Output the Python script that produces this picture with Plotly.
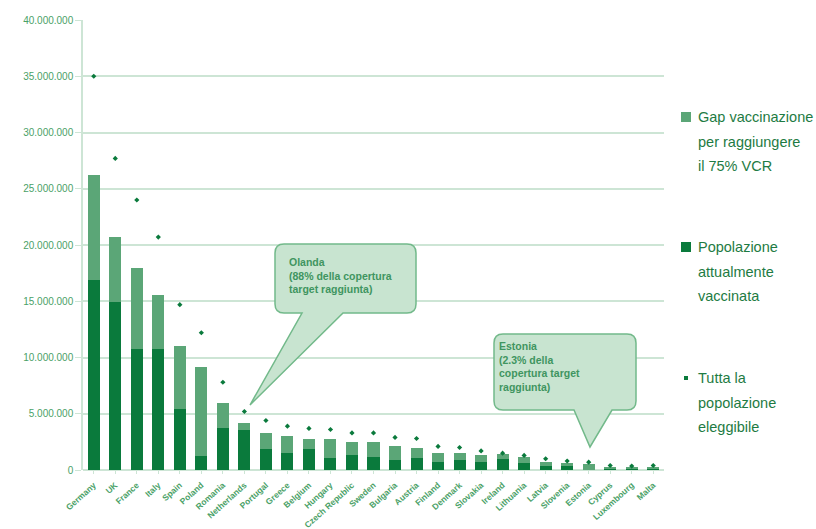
import plotly.graph_objects as go

countries = ["Germany", "UK", "France", "Italy", "Spain", "Poland", "Romania",
             "Netherlands", "Portugal", "Greece", "Belgium", "Hungary",
             "Czech Republic", "Sweden", "Bulgaria", "Austria", "Finland",
             "Denmark", "Slovakia", "Ireland", "Lithuania", "Latvia", "Slovenia",
             "Estonia", "Cyprus", "Luxembourg", "Malta"]

vaccinated = [16_900_000, 14_900_000, 10_800_000, 10_800_000, 5_400_000, 1_250_000,
              3_700_000, 3_600_000, 1_900_000, 1_550_000, 1_850_000, 1_100_000,
              1_300_000, 1_200_000, 900_000, 1_100_000, 700_000, 900_000, 700_000,
              1_000_000, 600_000, 400_000, 400_000, 13_000, 150_000, 150_000, 150_000]

gap = [9_300_000, 5_800_000, 7_200_000, 4_800_000, 5_600_000, 7_950_000,
       2_300_000, 600_000, 1_400_000, 1_450_000, 950_000, 1_700_000,
       1_200_000, 1_300_000, 1_200_000, 900_000, 800_000, 600_000, 600_000,
       400_000, 600_000, 300_000, 200_000, 540_000, 150_000, 100_000, 150_000]

eligible = [35_000_000, 27_700_000, 24_000_000, 20_700_000, 14_700_000, 12_200_000,
            7_800_000, 5_200_000, 4_400_000, 3_900_000, 3_700_000, 3_600_000,
            3_300_000, 3_300_000, 2_900_000, 2_800_000, 2_100_000, 2_000_000,
            1_700_000, 1_500_000, 1_300_000, 1_000_000, 800_000, 700_000,
            400_000, 350_000, 400_000]

legend_lines = [["Gap vaccinazione", "per raggiungere", "il 75% VCR"],
                ["Popolazione", "attualmente", "vaccinata"],
                ["Tutta la", "popolazione", "eleggibile"]]

callout_texts = ["<b>Olanda<br>(88% della copertura<br>target raggiunta)</b>",
                 "<b>Estonia<br>(2.3% della<br>copertura target<br>raggiunta)</b>"]

DARK = "#0A7A3C"
GAP = "#5BA677"
TXT = "#1E7B43"
AX = "#4AA167"
GRID = "#CDE5D5"

fig = go.Figure()
fig.add_trace(go.Bar(x=countries, y=vaccinated, name="Popolazione attualmente vaccinata",
                     marker=dict(color=DARK, line=dict(width=0))))
fig.add_trace(go.Bar(x=countries, y=gap, name="Gap vaccinazione per raggiungere il 75% VCR",
                     marker=dict(color=GAP, line=dict(width=0))))
fig.add_trace(go.Scatter(x=countries, y=eligible, name="Tutta la popolazione eleggibile",
                         mode="markers",
                         marker=dict(color=DARK, size=4, symbol="diamond")))

# plot area pixel frame
L, R, T, B = 83, 664, 20, 470
def px(x):
    return (x - L) / (R - L)
def py(y):
    return (B - y) / (B - T)

def callout(x0, y0, x1, y1, tb0, tb1, tip, r=9):
    p = (f"M {px(x0 + r)} {py(y0)} L {px(x1 - r)} {py(y0)} "
         f"Q {px(x1)} {py(y0)} {px(x1)} {py(y0 + r)} "
         f"L {px(x1)} {py(y1 - r)} Q {px(x1)} {py(y1)} {px(x1 - r)} {py(y1)} "
         f"L {px(tb1)} {py(y1)} L {px(tip[0])} {py(tip[1])} L {px(tb0)} {py(y1)} "
         f"L {px(x0 + r)} {py(y1)} Q {px(x0)} {py(y1)} {px(x0)} {py(y1 - r)} "
         f"L {px(x0)} {py(y0 + r)} Q {px(x0)} {py(y0)} {px(x0 + r)} {py(y0)} Z")
    return dict(type="path", path=p, xref="paper", yref="paper",
                fillcolor="#C8E4D0", line=dict(color="#72B98A", width=1.5), layer="above")

fig.add_shape(**callout(275, 244, 416, 313, 302, 343, (250, 405)))
fig.add_shape(**callout(494, 334, 636, 410, 574, 612, (590, 447)))

CF = dict(family="Liberation Sans, Arial, sans-serif", size=10.5, color="#3F9560")
fig.add_annotation(x=px(287), y=py(254), xref="paper", yref="paper", text=callout_texts[0],
                   showarrow=False, xanchor="left", yanchor="top", align="left", font=CF)
fig.add_annotation(x=px(497), y=py(338), xref="paper", yref="paper", text=callout_texts[1],
                   showarrow=False, xanchor="left", yanchor="top", align="left", font=CF)

# legend drawn as symbols + text beside the plot
first_line_y = [117, 247, 378]
for i, lines in enumerate(legend_lines):
    y0 = first_line_y[i]
    for j, line in enumerate(lines):
        fig.add_annotation(x=px(696), y=py(y0 + 24.5 * j), xref="paper", yref="paper",
                           text=line, showarrow=False, xanchor="left", yanchor="middle",
                           font=dict(family="Liberation Sans, Arial, sans-serif",
                                     size=14.5, color=TXT))
fig.add_shape(type="rect", xref="paper", yref="paper", x0=px(681), x1=px(691),
              y0=py(112), y1=py(122), fillcolor=GAP, line=dict(width=0))
fig.add_shape(type="rect", xref="paper", yref="paper", x0=px(681), x1=px(691),
              y0=py(242), y1=py(252), fillcolor=DARK, line=dict(width=0))
fig.add_shape(type="rect", xref="paper", yref="paper", x0=px(684), x1=px(688),
              y0=py(376), y1=py(380), fillcolor=DARK, line=dict(width=0))

fig.update_layout(
    width=816, height=529,
    margin=dict(l=L, r=816 - R, t=T, b=529 - B),
    paper_bgcolor="white", plot_bgcolor="white",
    barmode="stack", bargap=0.44,
    separators=",.",
    showlegend=False,
    xaxis=dict(tickangle=-42, automargin=False, range=[-0.5, len(countries) - 0.5],
               tickfont=dict(family="Liberation Sans, Arial, sans-serif",
                             size=8.5, color=AX, weight="bold"),
               showline=False, showgrid=False, ticks="outside", ticklen=3,
               tickcolor=GRID, ticklabelstandoff=3),
    yaxis=dict(range=[0, 40_000_000], dtick=5_000_000, tickformat=",d", automargin=False,
               tickfont=dict(family="Liberation Sans, Arial, sans-serif", size=10, color=AX),
               showgrid=True, gridcolor=GRID, gridwidth=2,
               zeroline=True, zerolinecolor=GRID, zerolinewidth=2,
               showline=True, linecolor=GRID, linewidth=1.5,
               ticks="outside", ticklen=6, tickcolor=GRID),
)

fig.write_html("out.html")
